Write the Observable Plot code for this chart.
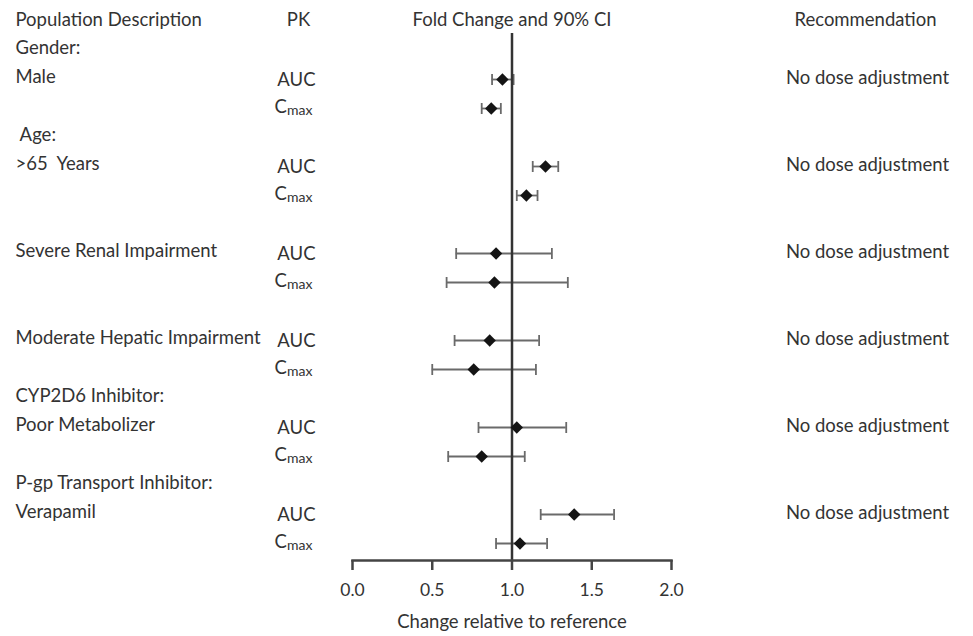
<!DOCTYPE html>
<html><head><meta charset="utf-8">
<script src="https://cdn.jsdelivr.net/npm/d3@7"></script>
<script src="https://cdn.jsdelivr.net/npm/@observablehq/plot@0.6"></script>
<style>body{margin:0;background:#fff}</style>
</head><body><div id="chart"></div>
<script>
// ---- data ----
const groupHeaders = ["Gender:", "\u00a0Age:", "", "", "CYP2D6 Inhibitor:", "P-gp Transport Inhibitor:"];
const populations = ["Male", ">65\u00a0 Years", "Severe Renal Impairment", "Moderate Hepatic Impairment", "Poor Metabolizer", "Verapamil"];
const aucEstimate  = [0.94, 1.21, 0.90, 0.86, 1.03, 1.39];
const aucLower     = [0.875, 1.13, 0.65, 0.64, 0.79, 1.18];
const aucUpper     = [1.01, 1.29, 1.25, 1.17, 1.34, 1.64];
const cmaxEstimate = [0.87, 1.09, 0.89, 0.76, 0.81, 1.05];
const cmaxLower    = [0.81, 1.03, 0.59, 0.50, 0.60, 0.90];
const cmaxUpper    = [0.93, 1.16, 1.35, 1.15, 1.08, 1.22];
const recommendations = ["No dose adjustment", "No dose adjustment", "No dose adjustment", "No dose adjustment", "No dose adjustment", "No dose adjustment"];
const xTicks = [0, 0.5, 1.0, 1.5, 2.0];
const headerTitles = {population: "Population Description", pk: "PK", effect: "Fold Change and 90% CI", rec: "Recommendation"};
const xLabel = "Change relative to reference";

// ---- derived tables ----
const rowKeys = populations.flatMap((p, i) => [`h${i}`, `${i}|AUC`, `${i}|Cmax`]);
const estimates = populations.flatMap((p, i) => [
  {row: `${i}|AUC`, pk: "AUC", est: aucEstimate[i], lo: aucLower[i], hi: aucUpper[i]},
  {row: `${i}|Cmax`, pk: "Cmax", est: cmaxEstimate[i], lo: cmaxLower[i], hi: cmaxUpper[i]}
]);
const headerRows = groupHeaders.map((t, i) => ({row: `h${i}`, text: t})).filter(d => d.text);
const popRows = populations.map((t, i) => ({row: `${i}|AUC`, text: t}));
const aucRows = populations.map((t, i) => ({row: `${i}|AUC`}));
const cmaxRows = populations.map((t, i) => ({row: `${i}|Cmax`}));
const recRows = recommendations.map((t, i) => ({row: `${i}|AUC`, text: t}));

const capSymbol = {
  draw(context, size) {
    const h = Math.sqrt(size / Math.PI);
    context.moveTo(0, -h);
    context.lineTo(0, h);
  }
};

const textColor = "#333";
const fs = 18.5;

const chart = Plot.plot({
  width: 973,
  height: 636,
  marginLeft: 352,
  marginRight: 302,
  marginTop: 33,
  marginBottom: 76,
  style: {fontFamily: "Lato, sans-serif", fontSize: fs + "px", color: textColor, background: "#fff"},
  x: {domain: [0, 2]},
  y: {type: "point", domain: rowKeys, padding: 0.5, axis: null},
  marks: [
    // error bars
    Plot.ruleY(estimates, {y: "row", x1: "lo", x2: "hi", stroke: "#6a6a6a", strokeWidth: 1.8}),
    Plot.dot(estimates, {y: "row", x: "lo", symbol: capSymbol, r: 5.5, fill: "none", stroke: "#6a6a6a", strokeWidth: 1.8}),
    Plot.dot(estimates, {y: "row", x: "hi", symbol: capSymbol, r: 5.5, fill: "none", stroke: "#6a6a6a", strokeWidth: 1.8}),
    // reference line
    Plot.ruleX([1], {stroke: "#333", strokeWidth: 2.5}),
    // point estimates
    Plot.dot(estimates, {y: "row", x: "est", symbol: "diamond2", r: 5.6, fill: "#141414", stroke: "none"}),
    // x axis
    Plot.frame({anchor: "bottom", stroke: "#444", strokeWidth: 2.5}),
    Plot.axisX({ticks: xTicks, tickFormat: d3.format(".1f"), tickSize: 10, tickPadding: 13, label: null, stroke: "#444", strokeWidth: 2.5, fill: textColor, fontSize: 17.5}),
    Plot.text([xLabel], {x: 1, frameAnchor: "bottom", dy: 67, fill: textColor, fontSize: fs}),
    // column headers
    Plot.text([headerTitles.population], {frameAnchor: "top-left", dx: -337, dy: -21, textAnchor: "start", fill: textColor, fontSize: fs}),
    Plot.text([headerTitles.pk], {frameAnchor: "top-left", dx: -54, dy: -21, textAnchor: "middle", fill: textColor, fontSize: fs}),
    Plot.text([headerTitles.effect], {x: 1, frameAnchor: "top", dy: -21, textAnchor: "middle", fill: textColor, fontSize: fs}),
    Plot.text([headerTitles.rec], {frameAnchor: "top-right", dx: 194, dy: -21, textAnchor: "middle", fill: textColor, fontSize: fs}),
    // left labels
    Plot.text(headerRows, {y: "row", text: "text", frameAnchor: "left", dx: -337, dy: -2, textAnchor: "start", fill: textColor, fontSize: fs}),
    Plot.text(popRows, {y: "row", text: "text", frameAnchor: "left", dx: -337, dy: -2, textAnchor: "start", fill: textColor, fontSize: fs}),
    // PK labels
    Plot.text(aucRows, {y: "row", text: () => "AUC", frameAnchor: "left", dx: -37, dy: 1, textAnchor: "end", fill: textColor, fontSize: fs}),
    Plot.text(cmaxRows, {y: "row", text: () => "C", frameAnchor: "left", dx: -78, dy: -1, textAnchor: "start", fill: textColor, fontSize: fs}),
    Plot.text(cmaxRows, {y: "row", text: () => "max", frameAnchor: "left", dx: -65.5, dy: 2.5, textAnchor: "start", fill: textColor, fontSize: 14}),
    // recommendations
    Plot.text(recRows, {y: "row", text: "text", frameAnchor: "right", dx: 196, dy: -1, textAnchor: "middle", fill: textColor, fontSize: fs})
  ]
});
document.getElementById("chart").appendChild(chart);
</script>
</body></html>
